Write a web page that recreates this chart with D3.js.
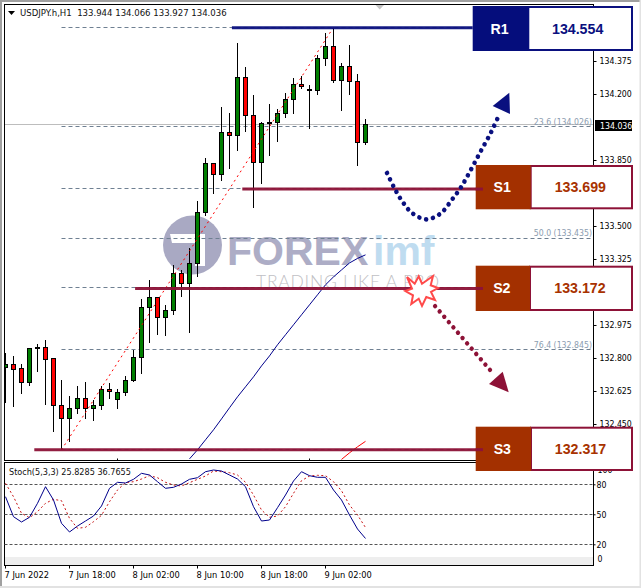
<!DOCTYPE html>
<html><head><meta charset="utf-8">
<script src="https://cdn.jsdelivr.net/npm/d3@7/dist/d3.min.js"></script>
<style>
html,body{margin:0;padding:0;background:#fff;overflow:hidden}
svg{display:block}
.mt{font-family:'DejaVu Sans Condensed','DejaVu Sans',sans-serif;font-stretch:condensed;font-size:8.7px}
</style></head><body><div id="c"></div>
<script>
const symbolTitle="USDJPY.h,H1  133.944 134.066 133.927 134.036";
const stochTitle="Stoch(5,3,3) 25.8285 36.7655";
const opens =[132.749,132.767,132.746,132.670,132.850,132.857,132.799,132.550,132.479,132.534,132.587,132.532,132.548,132.635,132.580,132.619,132.680,132.804,133.070,133.123,133.016,133.054,133.250,133.197,133.303,133.573,133.833,133.775,133.997,133.979,134.289,134.087,133.838,134.043,134.048,134.098,134.172,134.251,134.218,134.218,134.389,134.453,134.273,134.347,134.267,133.944];
const highs =[132.827,132.811,132.767,132.854,132.875,132.896,132.801,132.684,132.599,132.652,132.673,132.578,132.649,132.667,132.635,132.705,132.843,133.114,133.214,133.124,133.082,133.294,133.264,133.382,133.633,133.859,133.835,134.131,134.099,134.470,134.343,134.195,134.052,134.147,134.120,134.205,134.283,134.297,134.246,134.405,134.523,134.550,134.363,134.460,134.306,134.066];
const lows  =[132.562,132.542,132.611,132.649,132.728,132.553,132.405,132.313,132.352,132.504,132.477,132.468,132.525,132.585,132.530,132.596,132.673,132.716,132.882,132.923,132.914,133.030,133.126,132.935,133.229,133.554,133.672,133.739,133.804,133.899,134.000,133.597,133.724,133.873,133.947,134.074,134.094,134.228,134.016,134.195,134.350,134.260,134.111,134.195,133.820,133.927];
const closes=[132.767,132.741,132.670,132.852,132.856,132.794,132.548,132.479,132.534,132.587,132.532,132.550,132.635,132.624,132.619,132.682,132.804,133.070,133.123,133.016,133.054,133.250,133.197,133.303,133.573,133.833,133.775,133.997,133.979,134.289,134.085,133.838,134.045,134.050,134.098,134.172,134.251,134.239,134.223,134.389,134.453,134.273,134.347,134.267,133.944,134.036];
const maBlue=[132.265,132.313,132.366,132.419,132.477,132.536,132.594,132.647,132.700,132.758,132.811,132.870,132.923,132.976,133.029,133.082,133.135,133.188,133.230,133.267,133.304,133.328,133.347];
const maBlueStart=23;
const maRed=[132.262,132.297,132.329,132.358];
const maRedStart=42;
const stochMain=[67.6,47.6,42.3,47,61,77.6,64.3,41,32.3,38.3,43.3,48.3,58.3,76,82,81.3,85,91,89.3,82.6,76,77,80.3,85,86.6,92.6,94.3,93.3,89.3,85.3,77.6,57.6,43.3,44.3,56.6,69.3,83.3,92.6,88.6,87,87,74.3,64.3,49.3,35.3,25.83];
const stochSignal=[81,67.6,51,46.6,52.6,61,65,63.6,46,36,37,42.6,49,62.6,74.3,81.6,82.6,85.3,88.6,86.6,82,79.3,78.3,81.6,85,88.3,93.3,92.6,91.6,89.3,82,69.3,54.3,47,48.3,57.6,71,83.6,88.3,89,88.6,82.6,73.6,59.3,49.3,36.77];
const priceTicks=[134.375,134.200,133.850,133.500,133.325,132.975,132.800,132.625,132.450];
const stochLevels=[80,50,20];
const timeLabels=["7 Jun 2022","7 Jun 18:00","8 Jun 02:00","8 Jun 10:00","8 Jun 18:00","9 Jun 02:00"];
const timeIdx=[0,8,16,24,32,40];
const dayBreaks=[14,38];
const fibPrices=[134.554,134.026,133.699,133.435,133.172,132.845,132.317];
const fibShownPrices=[134.026,133.435,132.845];
const fibShownNames=["23.6","50.0","76.4"];
const fibStartIdx=7;
const trendIdx=[7,41], trendPrice=[132.313,134.554];
const lastPrice=134.036;
const levelNames=["R1","S1","S2","S3"];
const levelPrices=[134.554,133.699,133.172,132.317];
const levelStartIdx=[28.3,29.6,16.2,3.6];
const levelEndIdx=[58.4,59.7,59.7,59.7];
// dotted forecast paths, [candle index, price]
const blueIdx=[47.69,48.56,49.56,50.81,52.65,54.4,55.78,56.9,57.94,59.31,60.73,61.6];
const bluePrice=[133.781,133.705,133.633,133.569,133.535,133.567,133.638,133.703,133.780,133.889,134.000,134.080];
const darkIdx=[53.7,60.9];
const darkPrice=[133.075,132.72];

const W=641,H=588;
const svg=d3.select("#c").append("svg").attr("width",W).attr("height",H);
const L=4.5,R=593.5,T=4.5,B1=460.5,T2=462.5,B2=565.5;
const x=d3.scaleLinear().domain([0,45]).range([5.5,365.5]);
const y=d3.scaleLinear().domain([132.259,134.672]).range([460,5]);
const ys=d3.scaleLinear().domain([0,100]).range([564.3,464.3]);
const crisp=v=>Math.round(v-.5)+.5;

// frame
svg.append("rect").attr("width",W).attr("height",H).attr("fill","#fff");
svg.append("rect").attr("width",W).attr("height",2).attr("fill","#a0a0a0");
svg.append("rect").attr("width",2).attr("height",H).attr("fill","#a0a0a0");
svg.append("rect").attr("y",586).attr("width",W).attr("height",2).attr("fill","#e2e2e2");
svg.append("rect").attr("x",639.5).attr("width",1.5).attr("height",H).attr("fill","#e2e2e2");

// watermark logo
const logo=svg.append("g");
logo.append("circle").attr("cx",192.5).attr("cy",245).attr("r",29.5).attr("fill","#a9a9c3");
logo.append("path").attr("d","M170 234H205V266H195V243H172Z").attr("fill","#fff");
logo.append("text").attr("x",227).attr("y",265).attr("font-family","Liberation Sans").attr("font-weight",700).attr("font-size",41).attr("fill","#adadc6").text("FOREX");
logo.append("text").attr("x",373).attr("y",265).attr("font-family","Liberation Sans").attr("font-weight",700).attr("font-size",41).attr("fill","#bfdcf0").text("imf");
logo.append("text").attr("x",256).attr("y",288).attr("font-family","Lato").attr("font-weight",300).attr("font-size",17.5).attr("textLength",183).attr("fill","#bfc0c4").text("TRADING LIKE A PRO");

// panels
const clip=svg.append("defs").append("clipPath").attr("id","m").append("rect").attr("x",L).attr("y",T).attr("width",R-L).attr("height",B1-T);
const main=svg.append("g").attr("clip-path","url(#m)");

// current price line
main.append("line").attr("x1",L).attr("x2",R).attr("y1",crisp(y(lastPrice))).attr("y2",crisp(y(lastPrice))).attr("stroke","#bdbdbd");

// fibo levels
main.selectAll(".fib").data(fibPrices).join("line").attr("x1",x(fibStartIdx)).attr("x2",R)
 .attr("y1",d=>crisp(y(d))).attr("y2",d=>crisp(y(d))).attr("stroke","#6f8092").attr("stroke-dasharray","4 3");
main.selectAll(".fibt").data(fibShownPrices).join("text").attr("class","mt").attr("x",592).attr("y",d=>y(d)-2)
 .attr("text-anchor","end").attr("fill","#8c9db0").text((d,i)=>`${fibShownNames[i]} (${d.toFixed(3)})`);

// candles
const candles=main.append("g");
opens.forEach((o,i)=>{
  const c=closes[i],cx=x(i);
  candles.append("line").attr("x1",cx).attr("x2",cx).attr("y1",Math.round(y(highs[i]))).attr("y2",Math.round(y(lows[i]))).attr("stroke","#000");
  const top=crisp(y(Math.max(o,c))),bot=crisp(y(Math.min(o,c)));
  candles.append("rect").attr("x",cx-2).attr("width",4).attr("y",top).attr("height",Math.max(bot-top,1))
    .attr("fill",c>=o?"#007f00":"#ff0000").attr("stroke","#000");
});

// trend line and moving averages
main.append("line").attr("x1",x(trendIdx[0])).attr("x2",x(trendIdx[1])).attr("y1",y(trendPrice[0])).attr("y2",y(trendPrice[1]))
 .attr("stroke","#ff0000").attr("stroke-dasharray","2 3.5");
const ln=d3.line().x(d=>x(d[0])).y(d=>y(d[1]));
main.append("path").attr("d",ln(maBlue.map((v,i)=>[i+maBlueStart,v]))).attr("fill","none").attr("stroke","#00008b");
main.append("path").attr("d",ln(maRed.map((v,i)=>[i+maRedStart,v]))).attr("fill","none").attr("stroke","#ff0000");

// panel borders
const stroke="#000";
svg.append("rect").attr("x",L).attr("y",T).attr("width",R-L).attr("height",B1-T).attr("fill","none").attr("stroke",stroke);
svg.append("rect").attr("x",L).attr("y",T2).attr("width",R-L).attr("height",B2-T2).attr("fill","none").attr("stroke",stroke);
svg.selectAll(".db").data(dayBreaks).join("line").attr("x1",d=>x(d)).attr("x2",d=>x(d)).attr("y1",B1-2).attr("y2",B1).attr("stroke","#000");
// chart shift marker
svg.append("path").attr("d",d3.line()([[375.5,5],[384,5],[379.7,9.5]])+"Z").attr("fill","#c4c4c4");

// price axis
const ax=d3.axisRight(y).tickValues(priceTicks).tickFormat(d3.format(".3f")).tickSize(3).tickPadding(3);
const gy=svg.append("g").attr("transform",`translate(${R},0)`).call(ax);
gy.select(".domain").remove();
gy.selectAll("text").attr("class","mt").attr("fill","#000");
gy.attr("font-size",null).attr("font-family",null);
gy.selectAll("line").attr("stroke","#000");
// last price label
svg.append("rect").attr("x",595).attr("y",120).attr("width",37).attr("height",11).attr("fill","#000");
svg.append("text").attr("class","mt").attr("x",600).attr("y",128.7).attr("fill","#fff").text(lastPrice.toFixed(3));

// header
svg.append("path").attr("d",d3.line()([[8,11],[15,11],[11.5,15]])+"Z").attr("fill","#000");
svg.append("text").attr("class","mt").style("font-size","9.5px").attr("x",20).attr("y",16).attr("fill","#111").style("white-space","pre").text(symbolTitle);

// stochastic
svg.append("rect").attr("x",L+.5).attr("y",557).attr("width",R-L-1).attr("height",8).attr("fill","#eeeeee");
svg.selectAll(".sl").data(stochLevels).join("line").attr("x1",L).attr("x2",R).attr("y1",d=>crisp(ys(d))).attr("y2",d=>crisp(ys(d))).attr("stroke","#555").attr("stroke-dasharray","3 2");
const sl=d3.line().x((d,i)=>x(i)).y(d=>ys(d));
svg.append("path").attr("d",sl(stochSignal)).attr("fill","none").attr("stroke","#c81414").attr("stroke-dasharray","2 2.5");
svg.append("path").attr("d",sl(stochMain)).attr("fill","none").attr("stroke","#00008b");
svg.append("text").attr("class","mt").style("font-size","9px").attr("x",9).attr("y",475).attr("fill","#111").text(stochTitle);
const sy=d3.axisRight(ys).tickValues(stochLevels).tickSize(2).tickPadding(1);
const gs=svg.append("g").attr("transform",`translate(${R},0)`).call(sy);
gs.select(".domain").remove();
gs.attr("font-size",null).attr("font-family",null);
gs.selectAll("text").attr("class","mt").attr("fill","#000");
gs.selectAll("line").attr("stroke","#000");
svg.append("text").attr("class","mt").attr("x",597.5).attr("y",473).attr("fill","#000").text("100");
svg.append("text").attr("class","mt").attr("x",597.5).attr("y",561.5).attr("fill","#000").text("0");

// time axis
const tx=svg.append("g");
tx.selectAll("line").data(timeIdx).join("line").attr("x1",d=>x(d)).attr("x2",d=>x(d)).attr("y1",B2).attr("y2",B2+3).attr("stroke","#000");
tx.selectAll("text").data(timeIdx).join("text").attr("class","mt").style("font-size","9.2px").attr("x",d=>x(d)-1).attr("y",577.5).attr("fill","#000").text((d,i)=>timeLabels[i]);

// level lines
const levelCol=["#0a107f","#8d1237","#8d1237","#8d1237"];
levelPrices.forEach((p,i)=>{
  svg.append("line").attr("x1",x(levelStartIdx[i])).attr("x2",x(levelEndIdx[i])).attr("y1",y(p)+.6).attr("y2",y(p)+.6).attr("stroke",levelCol[i]).attr("stroke-width",3).attr("opacity",.95);
});

// forecast dotted paths
const pth=d3.line().x(d=>x(d[0])).y(d=>y(d[1])).curve(d3.curveCatmullRom);
svg.append("path").attr("d",pth(blueIdx.map((v,i)=>[v,bluePrice[i]]))).attr("fill","none").attr("stroke","#0a107f").attr("stroke-width",4.6).attr("stroke-linecap","round").attr("stroke-dasharray","0.01 7");
svg.append("path").attr("d",pth(darkIdx.map((v,i)=>[v,darkPrice[i]]))).attr("fill","none").attr("stroke","#8d1237").attr("stroke-width",4.4).attr("stroke-linecap","round").attr("stroke-dasharray","0.01 7");
const tri=(pts,c)=>svg.append("path").attr("d",d3.line()(pts)+"Z").attr("fill",c);
tri([[492.7,106],[509.3,92.7],[510,114]],"#0a107f");
tri([[489,384],[502.7,371.7],[508.7,392.3]],"#8d1237");

// burst
svg.append("path").attr("d",d3.line()([[407,277],[414.7,283.7],[418.7,276.3],[422,283.7],[433,276],[430.7,285.3],[438,288],[431,292],[435,300],[426.3,297],[422,306],[418.7,298.7],[411.3,304],[413,295.3],[405.3,291],[412,288.7]])+"Z")
 .attr("fill","#fff").attr("stroke","#ff4a4a").attr("stroke-width",2);

// level boxes
const boxTop=[6,165,265.7,426.7], boxBot=[51,209.3,311,471];
const boxLeft=[472.7,475.7,475.7,475.7], boxMid=[528.3,530.7,530,531], boxRight=[633,633,633,633];
const boxFill=["#050d7c","#a33000","#a33000","#a33000"];
const boxEdge=["#0a107f","#8d1237","#8d1237","#8d1237"];
const boxText=["#0a107f","#a83200","#a83200","#a83200"];
const valueShift=[-3,-1.5,-1.5,-1.5];
levelNames.forEach((n,i)=>{
  const g=svg.append("g"), h=boxBot[i]-boxTop[i], cy=boxTop[i]+h/2;
  g.append("rect").attr("x",boxMid[i]).attr("y",boxTop[i]+1).attr("width",boxRight[i]-boxMid[i]-1).attr("height",h-2).attr("fill","#fff").attr("stroke",boxEdge[i]).attr("stroke-width",2);
  g.append("rect").attr("x",boxLeft[i]).attr("y",boxTop[i]).attr("width",boxMid[i]-boxLeft[i]).attr("height",h).attr("fill",boxFill[i]);
  g.append("text").attr("x",(boxLeft[i]+boxMid[i])/2-1).attr("y",cy+5).attr("text-anchor","middle").attr("font-family","Liberation Sans").attr("font-weight",700).attr("font-size",14.2).attr("fill","#fff").text(n);
  g.append("text").attr("x",(boxMid[i]+boxRight[i])/2+valueShift[i]).attr("y",cy+5).attr("text-anchor","middle").attr("font-family","Liberation Sans").attr("font-weight",700).attr("font-size",14.2).attr("fill",boxText[i]).text(levelPrices[i].toFixed(3));
  if(i>0) g.append("line").attr("x1",boxLeft[i]).attr("x2",483).attr("y1",y(levelPrices[i])+.6).attr("y2",y(levelPrices[i])+.6).attr("stroke",levelCol[i]).attr("stroke-width",3);
});
</script></body></html>
